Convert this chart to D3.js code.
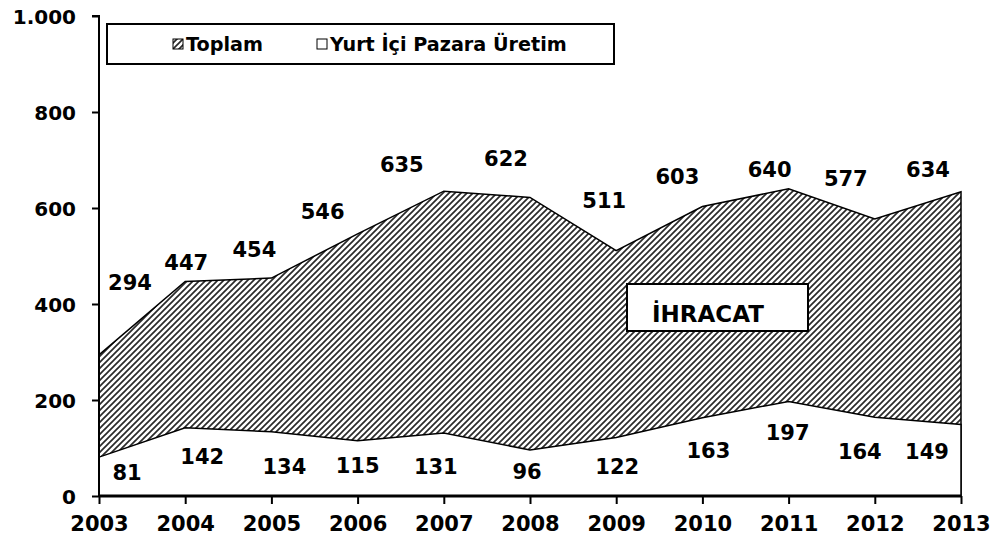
<!DOCTYPE html>
<html>
<head>
<meta charset="utf-8">
<script src="https://cdn.jsdelivr.net/npm/d3@7"></script>
<style>
  body { margin: 0; background: #fff; }
  text { font-family: "DejaVu Sans", Verdana, sans-serif; font-weight: bold; fill: #000; }
</style>
</head>
<body>
<svg id="chart"></svg>
<script>
// Data
const years = [2003, 2004, 2005, 2006, 2007, 2008, 2009, 2010, 2011, 2012, 2013];
const toplam = [294, 447, 454, 546, 635, 622, 511, 603, 640, 577, 634];
const yurtIci = [81, 142, 134, 115, 131, 96, 122, 163, 197, 164, 149];
const yTicks = [0, 200, 400, 600, 800, 1000];
const legendLabels = ["Toplam", "Yurt İçi Pazara Üretim"];
const boxLabel = "İHRACAT";

const width = 996, height = 545;
const margin = { top: 16, right: 35, bottom: 49, left: 99 };

const svg = d3.select("#chart")
    .attr("width", width)
    .attr("height", height);

// hatch pattern (wide upward diagonal)
const defs = svg.append("defs");
const pat = defs.append("pattern")
    .attr("id", "hatch")
    .attr("patternUnits", "userSpaceOnUse")
    .attr("width", 6)
    .attr("height", 6);
pat.append("rect").attr("width", 6).attr("height", 6).attr("fill", "#fff");
pat.append("path")
    .attr("d", "M-1,1 l2,-2 M0,6 l6,-6 M5,7 l2,-2")
    .attr("stroke", "#2a2a2a")
    .attr("stroke-width", 1.7);

const x = d3.scaleLinear()
    .domain(d3.extent(years))
    .range([margin.left, width - margin.right]);
const y = d3.scaleLinear()
    .domain([0, 1000])
    .range([height - margin.bottom, margin.top]);

const areaTop = d3.area()
    .x((d, i) => x(years[i]))
    .y0(y(0))
    .y1(d => y(d));

// Toplam area with hatch
svg.append("path")
    .datum(toplam)
    .attr("d", areaTop)
    .attr("fill", "url(#hatch)")
    .attr("stroke", "#000")
    .attr("stroke-width", 1.5);

// Yurt ici area in white
svg.append("path")
    .datum(yurtIci)
    .attr("d", areaTop)
    .attr("fill", "#fff")
    .attr("stroke", "#000")
    .attr("stroke-width", 1.5);

// Y axis
const yAxis = svg.append("g")
    .attr("transform", `translate(${margin.left},0)`)
    .call(d3.axisLeft(y).tickValues(yTicks).tickSize(7).tickPadding(16)
        .tickFormat(d => d3.format(",")(d).replace(",", ".")));
yAxis.select(".domain").attr("stroke-width", 2).attr("d", `M-7,${y(1000)}H0V${y(0)}`);
yAxis.selectAll(".tick line").attr("stroke-width", 2);
yAxis.selectAll(".tick text")
    .style("font-size", "20px")
    .attr("font-family", null)
    .attr("dy", "0.36em");

// X axis
const xAxis = svg.append("g")
    .attr("transform", `translate(0,${y(0)})`)
    .call(d3.axisBottom(x).tickValues(years).tickSize(8).tickPadding(8)
        .tickFormat(d3.format("d")));
xAxis.select(".domain").attr("stroke-width", 3).attr("d", `M${x(2003)},0H${x(2013)}`);
xAxis.selectAll(".tick line").attr("stroke-width", 2);
xAxis.selectAll(".tick text")
    .style("font-size", "21px")
    .attr("font-family", null)
    .attr("dy", "0.9em");

// label nudges (dx, dy) relative to the point, mimicking the original placement
const topNudge = [[31, -72], [1, -19], [-17, -29], [-35, -22], [-42, -27], [-24, -39],
                  [-12, -50], [-25, -30], [-19, -19], [-29, -41], [-33, -22]];
const botNudge = [[28, 15], [17, 29], [13, 35], [0, 25], [-8, 33], [-3, 22],
                  [1, 29], [6, 33], [-1, 31], [-15, 34], [-34, 27]];

svg.append("g").selectAll("text")
    .data(toplam)
    .join("text")
    .attr("x", (d, i) => x(years[i]) + topNudge[i][0])
    .attr("y", (d, i) => y(d) + topNudge[i][1])
    .attr("text-anchor", "middle")
    .attr("dy", "0.36em")
    .style("font-size", "21px")
    .text(d => d);

svg.append("g").selectAll("text")
    .data(yurtIci)
    .join("text")
    .attr("x", (d, i) => x(years[i]) + botNudge[i][0])
    .attr("y", (d, i) => y(d) + botNudge[i][1])
    .attr("text-anchor", "middle")
    .attr("dy", "0.36em")
    .style("font-size", "21px")
    .text(d => d);

// Legend
const legend = svg.append("g");
legend.append("rect")
    .attr("x", 107).attr("y", 24)
    .attr("width", 507).attr("height", 40)
    .attr("fill", "#fff")
    .attr("stroke", "#000")
    .attr("stroke-width", 2);
const legendX = [173, 317];
const legendFills = ["url(#hatch)", "#fff"];
legendLabels.forEach((lab, i) => {
    legend.append("rect")
        .attr("x", legendX[i]).attr("y", 39)
        .attr("width", 10).attr("height", 10)
        .attr("fill", legendFills[i])
        .attr("stroke", "#000")
        .attr("stroke-width", 1);
    legend.append("text")
        .attr("x", legendX[i] + 13).attr("y", 51)
        .style("font-size", "19.2px")
        .text(lab);
});

// IHRACAT box
const box = svg.append("g");
box.append("rect")
    .attr("x", 627).attr("y", 284)
    .attr("width", 181).attr("height", 47)
    .attr("fill", "#fff")
    .attr("stroke", "#000")
    .attr("stroke-width", 2);
box.append("text")
    .attr("x", 708).attr("y", 322)
    .attr("text-anchor", "middle")
    .style("font-size", "23px")
    .text(boxLabel);
</script>
</body>
</html>
